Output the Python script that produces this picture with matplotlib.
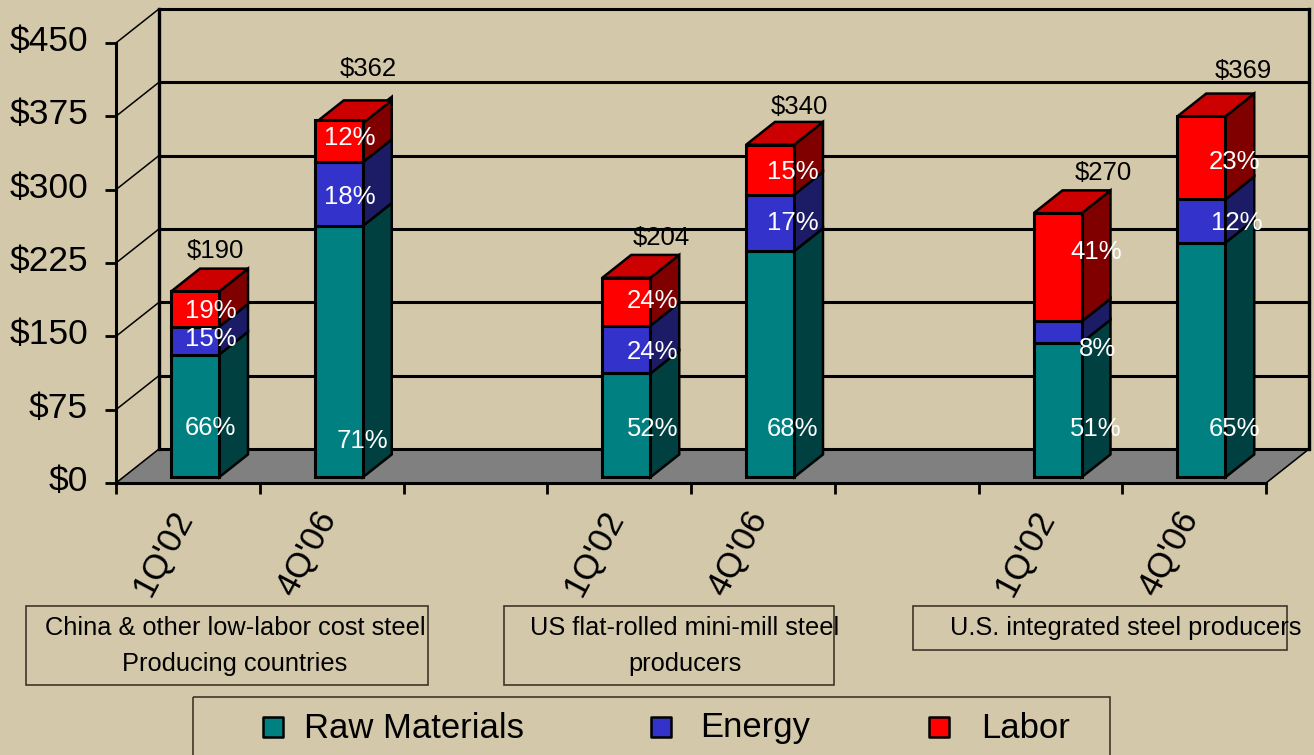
import numpy as np
import matplotlib
matplotlib.use("Agg")
import matplotlib.pyplot as plt
from matplotlib.patches import Rectangle
from matplotlib.transforms import ScaledTranslation

plt.rcParams['font.family'] = ['Liberation Sans', 'DejaVu Sans']

# steel cost per ton, by period and producer group
periods = ["1Q'02", "4Q'06", "1Q'02", "4Q'06", "1Q'02", "4Q'06"]
totals = np.array([190, 362, 204, 340, 270, 369])
raw_pct = np.array([66, 71, 52, 68, 51, 65])
energy_pct = np.array([15, 18, 24, 17, 8, 12])
labor_pct = np.array([19, 12, 24, 15, 41, 23])
y_ticks = [0, 75, 150, 225, 300, 375, 450]
groups = [
    "China & other low-labor cost steel\nProducing countries",
    "US flat-rolled mini-mill steel\nproducers",
    "U.S. integrated steel producers",
]
series_names = ["Raw Materials", "Energy", "Labor"]

# layout
slots = np.array([0.5, 1.5, 3.5, 4.5, 6.5, 7.5])
BG = '#d4c8aa'
front_colors = ['#008080', '#3333cc', '#ff0000']
side_colors = ['#004040', '#1c1c66', '#800000']
top_color = '#cc0000'
W, H = 1314, 755
PX_PER_SLOT = 143.75
PX_PER_USD = 0.978
DX = 43 / PX_PER_SLOT   # depth of the chart box in data units
DY = 34 / PX_PER_USD
D0, D1 = 0.17, 0.84     # front and back of the bars inside that depth
BAR_W = 48 / PX_PER_SLOT

fig = plt.figure(figsize=(W / 100, H / 100), dpi=100, facecolor=BG)
ax = fig.add_axes([116 / W, 1 - 483 / H, (1309 - 116) / W, (483 - 7) / H])
ax.set_xlim(0, (1309 - 116) / PX_PER_SLOT)
ax.set_ylim(0, (483 - 7) / PX_PER_USD)
ax.patch.set_alpha(0)

# floor, back wall and grid
ax.fill([0, DX, 8 + DX, 8], [0, DY, DY, 0], color='#808080', zorder=1, clip_on=False)
for v in y_ticks:
    ax.plot([0, DX], [v, v + DY], color='black', lw=1.1, zorder=2, clip_on=False)
    ax.plot([DX, 8 + DX], [v + DY, v + DY], color='black', lw=2.2, zorder=2, clip_on=False)
ax.plot([DX, DX], [DY, 450 + DY], color='black', lw=2.4, zorder=2, clip_on=False)
ax.plot([8 + DX, 8 + DX], [DY, 450 + DY], color='black', lw=2.4, zorder=2, clip_on=False)
ax.plot([8, 8 + DX], [0, DY], color='black', lw=1.1, zorder=2, clip_on=False)

for s in ['top', 'right']:
    ax.spines[s].set_visible(False)
for s in ['left', 'bottom']:
    ax.spines[s].set_linewidth(2.2)
    ax.spines[s].set_zorder(3)
ax.spines['left'].set_bounds(0, 450)
ax.spines['bottom'].set_bounds(0, 8)
ax.set_yticks(y_ticks, [f'${v}' for v in y_ticks], fontsize=25.5)
ax.set_xticks(np.arange(9), [])
ax.tick_params(axis='y', direction='out', length=8, width=2, pad=12)
ax.tick_params(axis='x', direction='out', length=8, width=2)
# the dollar labels sit a little above their ticks
lift = ScaledTranslation(0, 3.5 / 72, fig.dpi_scale_trans)
for lab in ax.get_yticklabels():
    lab.set_transform(lab.get_transform() + lift)

# stacked bars with side and top faces
segments = np.array([raw_pct, energy_pct, labor_pct]) / 100 * totals
bottoms = np.vstack([np.zeros(6), np.cumsum(segments, axis=0)[:-1]])
for seg, bot, fc, sc in zip(segments, bottoms, front_colors, side_colors):
    xf = slots + D0 * DX
    ax.bar(xf, seg, BAR_W, bottom=bot + D0 * DY, color=fc, edgecolor='black',
           linewidth=2.2, zorder=5, clip_on=False)
    for x, b, h in zip(xf, bot, seg):
        xr = x + BAR_W / 2
        dx = (D1 - D0) * DX
        dy = (D1 - D0) * DY
        y0 = b + D0 * DY
        ax.fill([xr, xr + dx, xr + dx, xr], [y0, y0 + dy, y0 + h + dy, y0 + h],
                facecolor=sc, edgecolor='black', linewidth=1.8, zorder=4, clip_on=False)
for x, t in zip(slots + D0 * DX, totals):
    xl, xr = x - BAR_W / 2, x + BAR_W / 2
    dx = (D1 - D0) * DX
    dy = (D1 - D0) * DY
    y0 = t + D0 * DY
    ax.fill([xl, xr, xr + dx, xl + dx], [y0, y0, y0 + dy, y0 + dy],
            facecolor=top_color, edgecolor='black', linewidth=1.8, zorder=4, clip_on=False)

# totals, offset from the top of each bar in pixels
total_offsets = [(20, 40), (29, 54), (35, 40), (29, 38), (46, 40), (42, 45)]
for x, t, off in zip(slots + D0 * DX, totals, total_offsets):
    ax.annotate(f'${t}', (x, t + D0 * DY), xytext=off, textcoords='offset pixels',
                ha='center', va='center', fontsize=18.5, zorder=6, annotation_clip=False)

# period labels under the axis
for x, lab in zip(slots, periods):
    ax.annotate(lab, (x, 0), xytext=(-25, -70), textcoords='offset pixels', ha='center',
                va='center', rotation=62, fontsize=25, annotation_clip=False)

# overlay in pixel coordinates for percent labels, group boxes and the key
ov = fig.add_axes([0, 0, 1, 1], zorder=5)
ov.set_xlim(0, W)
ov.set_ylim(H, 0)
ov.axis('off')

pct_x = [(210, 211, 211), (362, 350, 350), (653, 653, 653),
         (793, 793, 793), (1096, 1097, 1096), (1235, 1237, 1235)]
pct_y = [(428, 339, 311), (441, 197, 138), (429, 352, 301),
         (429, 223, 172), (429, 349, 252), (429, 223, 162)]
pcts = np.array([raw_pct, energy_pct, labor_pct]).T
for row, xs, ys in zip(pcts, pct_x, pct_y):
    for p, px, py in zip(row, xs, ys):
        ov.text(px, py, f'{p}%', color='white', fontsize=18.5, ha='center', va='center')

box_edge = '#40352a'
boxes = [(26, 606, 402, 79), (504, 606, 330, 79), (913, 606, 374, 44)]
box_cx = [235, 685, 1126]
for (bx, by, bw, bh), cx, name in zip(boxes, box_cx, groups):
    ov.add_patch(Rectangle((bx, by), bw, bh, fill=False, edgecolor=box_edge, lw=1.2))
    for i, line in enumerate(name.split('\n')):
        ov.text(cx, 628 + 36 * i, line, fontsize=18.3, ha='center', va='center')

# key
ov.add_patch(Rectangle((193, 697), 917, 80, fill=False, edgecolor=box_edge, lw=1.2))
key_marks = [273, 661, 939]
key_text = [304, 700, 981]
for mx, tx, name, col in zip(key_marks, key_text, series_names, front_colors):
    ov.scatter([mx], [727], marker='s', s=190, facecolor=col, edgecolor='black', linewidth=1.8)
    ov.text(tx, 728, name, fontsize=24.9, ha='left', va='center')

fig.savefig('out.png', dpi=100, facecolor=BG)
